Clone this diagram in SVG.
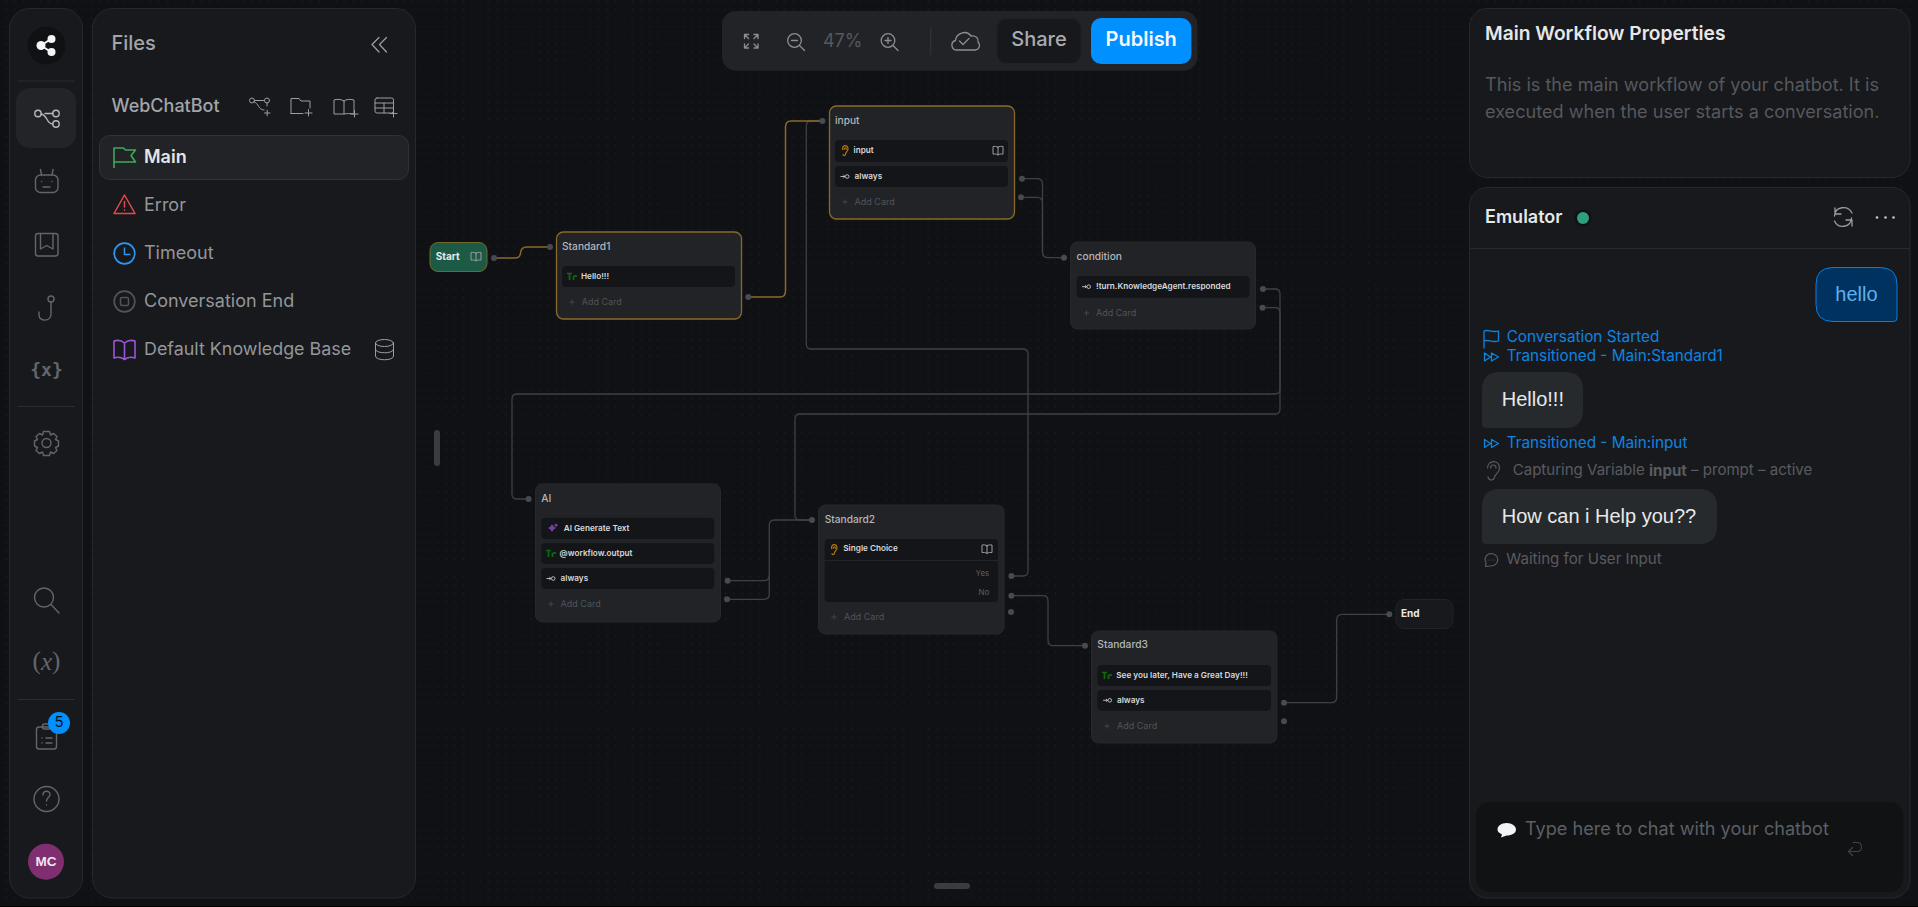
<svg xmlns="http://www.w3.org/2000/svg" width="1918" height="907" viewBox="0 0 1918 907">
<style>
text{font-family:Inter,"Noto Sans","Liberation Sans",sans-serif;dominant-baseline:central;transform:translateY(-.6px)}
#files text,#emulator text,#properties text,#rail text{transform:translateY(-1.2px)}
.panel{fill:#18191c;stroke:#26282b;stroke-width:1}
.node{fill:#212327;stroke:#26282b;stroke-width:1}
.sel{stroke:#8a6a28;stroke-width:1.3}
.card{fill:#141518}
.title{font-size:10.2px;font-weight:500;fill:#b4b6ba}
.ct{font-size:8.2px;font-weight:600;fill:#d8d9db}
.add{font-size:9px;fill:#505358}
.opt{font-size:8px;fill:#5c5f64}
.port{fill:#474a50}
.conn{fill:none;stroke:#3e4145;stroke-width:1.3}
.gold{fill:none;stroke:#8a6a28;stroke-width:1.5}
.ic{fill:none;stroke:#62666c;stroke-width:1.4;stroke-linecap:round;stroke-linejoin:round}
.ti{fill:none;stroke:#9a9da2;stroke-width:1;stroke-linecap:round;stroke-linejoin:round}
.ti2{fill:none;stroke:#8b8e93;stroke-width:1.3;stroke-linecap:round;stroke-linejoin:round}
.file{font-size:18px;fill:#93969b}
.blue{font-size:15.3px;fill:#0d84e0}
.grey{font-size:15.05px;fill:#585b61}
.bub{font-family:"Liberation Sans",Arial,sans-serif;font-size:20px;fill:#e8e9ea}
.bl{fill:none;stroke:#0d84e0;stroke-width:1.3;stroke-linejoin:round;stroke-linecap:round}
.gl{fill:none;stroke:#585b61;stroke-width:1.2;stroke-linejoin:round;stroke-linecap:round}
</style>
<defs>
<pattern id="dots" width="8.46" height="8.46" patternUnits="userSpaceOnUse" patternTransform="translate(2.27 -3.13)"><circle cx="4.23" cy="4.23" r="0.75" fill="#1d1f23"/></pattern>
<g id="book"><path class="ti" d="M0 -3.8V4.4M0 -3.2C-1.5 -4.4 -3.6 -4.2 -5 -4V3.6C-3.6 3.4 -1.5 3.3 0 4.4C1.5 3.3 3.6 3.4 5 3.6V-4C3.6 -4.2 1.5 -4.4 0 -3.2Z"/></g>
<g id="ear"><path fill="none" stroke="#b87409" stroke-width="1.2" stroke-linecap="round" d="M-2.5 -1C-2.5 -6 3 -6 3 -1.5C3 1 0.5 1.500 0.5 3.500C0.5 5.500 -2 5.500 -2 4M-0.8 -1C-0.8 -3.3 1.3 -3.3 1.3 -1.2"/></g>
<g id="arrow"><path fill="none" stroke="#c8c9cc" stroke-width="0.9" d="M-4.5 0H0M-1.6 -1.4L0 0L-1.6 1.4"/><circle cx="2.2" cy="0" r="1.8" fill="none" stroke="#c8c9cc" stroke-width="0.9"/></g>
<g id="tr"><path fill="none" stroke="#0f6a0f" stroke-width="1.7" d="M-5 -3H0M-2.5 -3V3.5M1.5 -0.5V3.5M1.5 0.5C2.5 -0.7 4 -0.7 5 -0.4"/></g>
<g id="plus"><path fill="none" stroke="#44474c" stroke-width="0.9" d="M-2.7 0H2.7M0 -2.7V2.7"/></g>
<g id="ffwd"><path class="bl" d="M-7 -4L-1 0L-7 4ZM0 -4L7 0L0 4Z"/></g>
</defs>
<rect width="1918" height="907" fill="#101114"/>
<rect width="1918" height="907" fill="url(#dots)"/>
<rect y="906" width="1918" height="1" fill="#000"/>

<g id="connectors">
<path class="conn" d="M1022 178.7H1037Q1042.5 178.7 1042.5 184V252Q1042.5 257.7 1048 257.7H1064"/>
<path class="conn" d="M1021 197.3H1037Q1042.5 197.3 1042.5 203V252"/>
<path class="conn" d="M1263 289H1275Q1280 289 1280 294V389Q1280 394 1275 394H517Q512 394 512 399V494Q512 499 517 499H528.6"/>
<path class="conn" d="M1262.5 307.7H1275Q1280 307.7 1280 313V409Q1280 414 1275 414H800Q795 414 795 419V515Q795 520 800 520H812"/>
<path class="conn" d="M727.6 580.7H764Q769.3 580.7 769.3 575V525Q769.3 520 775 520H812"/>
<path class="conn" d="M727 599.3H764Q769.3 599.3 769.3 594V575"/>
<path class="conn" d="M1011.4 576H1023Q1028 576 1028 571V354Q1028 349 1023 349H811Q806.3 349 806.3 344V126Q806.3 121 811 121H822"/>
<path class="conn" d="M1011.4 595.7H1043Q1048 595.7 1048 601V640Q1048 645.7 1053 645.7H1085"/>
<path class="conn" d="M1284 702.7H1331Q1336.7 702.7 1336.7 697V620Q1336.7 614.3 1342 614.3H1389.3"/>
<path class="gold" d="M494 258H515Q520 258 520.5 253Q521 247 527 247H550"/>
<path class="gold" d="M748 297H780Q785.5 297 785.5 291V127Q785.5 121 791 121H822"/>
</g>

<g id="node-start">
<rect x="430" y="242.5" width="57" height="29" rx="8" fill="#1d5a45" stroke="#6f6a2c" stroke-width="1"/>
<text x="435.7" y="256.5" font-size="10" font-weight="700" fill="#e8e9ea">Start</text>
<use href="#book" x="476" y="256.5"/>
<circle class="port" cx="494" cy="258" r="3"/>
</g>
<g id="node-standard1">
<rect class="node sel" x="556.5" y="232" width="185" height="87" rx="7"/>
<text class="title" x="562" y="246.5">Standard1</text>
<rect class="card" x="562" y="266" width="173" height="21" rx="4"/>
<use href="#tr" x="572" y="276.5"/>
<text class="ct" x="581" y="276.5">Hello!!!</text>
<use href="#plus" x="572" y="302"/>
<text class="add" x="581.7" y="302">Add Card</text>
<circle class="port" cx="550" cy="247" r="3"/>
<circle class="port" cx="748.3" cy="297" r="3"/>
</g>
<g id="node-input">
<rect class="node sel" x="829.5" y="106" width="185" height="113" rx="7"/>
<text class="title" x="835" y="121">input</text>
<rect class="card" x="835" y="140" width="173" height="22" rx="4"/>
<use href="#ear" x="845" y="150.500"/>
<text class="ct" x="853.5" y="150.500">input</text>
<use href="#book" x="998" y="150.500"/>
<rect class="card" x="835" y="166" width="173" height="21" rx="4"/>
<use href="#arrow" x="845" y="176.500"/>
<text class="ct" x="854.6" y="176.500">always</text>
<use href="#plus" x="845" y="202"/>
<text class="add" x="854.6" y="202">Add Card</text>
<circle class="port" cx="822.4" cy="121" r="3"/>
<circle class="port" cx="1022" cy="178.700" r="3"/>
<circle class="port" cx="1021" cy="197.300" r="3"/>
</g>
<g id="node-condition">
<rect class="node" x="1070.500" y="242" width="185" height="87" rx="7"/>
<text class="title" x="1076.600" y="256.700">condition</text>
<rect class="card" x="1076.600" y="276" width="173" height="21.700" rx="4"/>
<use href="#arrow" x="1086.500" y="286.700"/>
<text class="ct" x="1096" y="286.500">!turn.KnowledgeAgent.responded</text>
<use href="#plus" x="1086.500" y="313"/>
<text class="add" x="1096" y="313">Add Card</text>
<circle class="port" cx="1064" cy="257.700" r="3"/>
<circle class="port" cx="1263" cy="289" r="3"/>
<circle class="port" cx="1262.500" cy="307.700" r="3"/>
</g>
<g id="node-ai">
<rect class="node" x="535.500" y="484" width="185" height="138" rx="7"/>
<text class="title" x="541.300" y="498.700">AI</text>
<rect class="card" x="541.300" y="517.700" width="173" height="21.300" rx="4"/>
<path fill="#7a3fa8" d="M552 524l1.500 2.500 2.500 1.500-2.500 1.500-1.500 2.500-1.500-2.500-2.500-1.500 2.500-1.500zM556 523l.8 1.500 1.500.8-1.500.8-.8 1.500-.8-1.500-1.500-.8 1.500-.8z"/>
<text class="ct" x="563.700" y="528.300">AI Generate Text</text>
<rect class="card" x="541.300" y="543" width="173" height="21" rx="4"/>
<use href="#tr" x="551" y="553.500"/>
<text class="ct" x="559.600" y="553.300">@workflow.output</text>
<rect class="card" x="541.300" y="568" width="173" height="21" rx="4"/>
<use href="#arrow" x="551" y="578.500"/>
<text class="ct" x="560.600" y="578.300">always</text>
<use href="#plus" x="551" y="604"/>
<text class="add" x="560.600" y="604">Add Card</text>
<circle class="port" cx="528.600" cy="499" r="3"/>
<circle class="port" cx="727.600" cy="580.700" r="3"/>
<circle class="port" cx="727" cy="599.300" r="3"/>
</g>
<g id="node-standard2">
<rect class="node" x="818.500" y="505" width="185.500" height="129" rx="7"/>
<text class="title" x="824.700" y="520">Standard2</text>
<rect class="card" x="824.700" y="539" width="173.300" height="63" rx="4"/>
<rect x="824.700" y="560" width="173.300" height="1" fill="#222428"/>
<use href="#ear" x="834" y="549.500"/>
<text class="ct" x="843.300" y="549">Single Choice</text>
<use href="#book" x="987" y="549"/>
<text class="opt" x="989.300" y="573.500" text-anchor="end">Yes</text>
<text class="opt" x="989.300" y="592.700" text-anchor="end">No</text>
<use href="#plus" x="834" y="617"/>
<text class="add" x="844" y="617">Add Card</text>
<circle class="port" cx="812" cy="520" r="3"/>
<circle class="port" cx="1011.400" cy="576" r="3"/>
<circle class="port" cx="1011.400" cy="595.700" r="3"/>
<circle class="port" cx="1011" cy="612" r="3"/>
</g>
<g id="node-standard3">
<rect class="node" x="1091.500" y="631" width="185.500" height="112" rx="7"/>
<text class="title" x="1097.300" y="644.500">Standard3</text>
<rect class="card" x="1097.300" y="665" width="173.700" height="21" rx="4"/>
<use href="#tr" x="1107" y="675.500"/>
<text class="ct" x="1116.300" y="675.300">See you later, Have a Great Day!!!</text>
<rect class="card" x="1097.300" y="690" width="173.700" height="20.700" rx="4"/>
<use href="#arrow" x="1107.600" y="700.300"/>
<text class="ct" x="1117" y="700.300">always</text>
<use href="#plus" x="1107" y="726"/>
<text class="add" x="1117" y="726">Add Card</text>
<circle class="port" cx="1085" cy="645.700" r="3"/>
<circle class="port" cx="1284" cy="702.700" r="3"/>
<circle class="port" cx="1284" cy="721.300" r="3"/>
</g>
<g id="node-end">
<rect x="1396" y="599.500" width="57" height="29" rx="8" fill="#18191c" stroke="#212327"/>
<text x="1401" y="613.500" font-size="10" font-weight="700" fill="#e8e9ea">End</text>
<circle class="port" cx="1389.300" cy="614.300" r="3"/>
</g>

<rect id="handle-left" x="434" y="430" width="6" height="36" rx="3" fill="#3a3c40"/>
<rect id="handle-bottom" x="934" y="883" width="36" height="6" rx="3" fill="#3a3c40"/>

<g id="toolbar">
<rect x="722" y="11" width="475.500" height="59.700" rx="14" fill="#212327"/>
<path class="ti2" d="M744.500 34.500l4 4M744.500 34.500v4M744.500 34.500h4M758 34.500l-4 4M758 34.500v4M758 34.500h-4M744.500 48l4-4M744.500 48v-4M744.500 48h4M758 48l-4-4M758 48v-4M758 48h-4"/>
<circle class="ti2" cx="794.500" cy="40.500" r="6.800" stroke-width="1.600"/><path class="ti2" d="M791.500 40.500h6M799.500 45.500l5 5" stroke-width="1.600"/>
<text x="842.700" y="41" text-anchor="middle" font-size="18" fill="#55585d">47%</text>
<circle class="ti2" cx="888" cy="40.500" r="6.800" stroke-width="1.600"/><path class="ti2" d="M885 40.500h6M888 37.500v6M893 45.500l5 5" stroke-width="1.600"/>
<rect x="930.300" y="27" width="1" height="28" fill="#34373b"/>
<path class="ti2" d="M957 50c-6 0-7-8-1.500-9.500C956 34 966 29 971 36c5-1 8 3 7 6 3 3 1 8-3 8Z" stroke-width="1.500"/><path class="ti2" d="M959.500 41l3.500 3.500 6-6"/>
<rect x="997" y="18.500" width="84" height="45" rx="10" fill="#17181b" stroke="#1f2124"/>
<text x="1039" y="40" text-anchor="middle" font-size="20" font-weight="500" fill="#a9abb0">Share</text>
<rect x="1091" y="18" width="100.400" height="46" rx="10" fill="#0090ff"/>
<text x="1141.200" y="40" text-anchor="middle" font-size="20" font-weight="600" fill="#f4f8fc">Publish</text>
</g>

<g id="rail">
<rect class="panel" x="9.500" y="8.500" width="73" height="889.500" rx="20"/>
<circle cx="46.500" cy="45.500" r="19" fill="#101114"/>
<path d="M41 45.500L51 39M41 45.500L51 52" stroke="#f4f4f4" stroke-width="2"/><circle cx="41" cy="45.500" r="4.500" fill="#f4f4f4"/><circle cx="51.500" cy="39" r="4" fill="#f4f4f4"/><circle cx="51.500" cy="52" r="4" fill="#f4f4f4"/>
<rect x="18" y="80.500" width="57" height="1" fill="#2a2c30"/>
<rect x="16" y="88" width="60" height="60" rx="14" fill="#222428"/>
<g class="ic" style="stroke:#b6b8bc"><circle cx="38" cy="113.500" r="3.200"/><circle cx="56" cy="113.500" r="3.200"/><circle cx="56" cy="124" r="3.200"/><path d="M41 114C48 115 46 124 52.800 124M45 113.500H52.800"/></g>
<g class="ic"><rect x="35.500" y="175" width="22.500" height="17.500" rx="5"/><path d="M41.500 175L40.500 169.500M52 175L53 169.500M43 187H50M41.500 181.500h.1M52 181.500h.1"/></g>
<g class="ic"><rect x="35.500" y="233.500" width="22.500" height="22.500" rx="2.500"/><path d="M40.500 233.500V249L46.700 245.500L53 249V233.500"/></g>
<g class="ic"><circle cx="51" cy="299" r="3"/><path d="M51 302V314C51 322 39 322 39 315V312"/></g>
<text x="46.500" y="371" text-anchor="middle" style="font-family:'DejaVu Sans Mono',monospace" font-size="18" font-weight="700" fill="#62666c">{x}</text>
<rect x="18" y="406" width="57" height="1" fill="#2a2c30"/>
<g class="ic"><circle cx="46.500" cy="443" r="4.500"/><path d="M43.500 431.500h6l1 3.500 3-1.500 3.500 3-1.500 3 3 1.500v5l-3 1.500 1.500 3-3.500 3-3-1.500-1 3.500h-6l-1-3.500-3 1.500-3.500-3 1.500-3-3-1.500v-5l3-1.500-1.500-3 3.500-3 3 1.500z"/></g>
<g class="ic"><circle cx="44" cy="597.500" r="9.500"/><path d="M51 604.500L59 613"/></g>
<text x="46.500" y="662" text-anchor="middle" font-size="25" style="font-family:'Liberation Serif',serif" fill="#62666c">(<tspan font-style="italic">x</tspan>)</text>
<rect x="18" y="699" width="57" height="1" fill="#2a2c30"/>
<g class="ic"><rect x="36.500" y="727" width="20" height="22" rx="2.500"/><rect x="42.500" y="724" width="8" height="5" rx="2"/><path d="M42 738h.1M46 738h6M42 743h.1M46 743h6"/></g>
<circle cx="59" cy="723" r="11" fill="#0090ff"/>
<text x="59" y="723" text-anchor="middle" font-size="15" fill="#06121c">5</text>
<g class="ic"><circle cx="46.500" cy="799" r="12.500"/><path d="M43 795c0-5 7-5 7 -.5 0 3-3.500 3-3.500 6.500M46.500 805h.1"/></g>
<circle cx="46" cy="861.700" r="18" fill="#7f2f6f"/>
<text x="46" y="863" text-anchor="middle" font-size="13.500" font-weight="700" fill="#f1e6ee" style="font-family:'Liberation Sans',sans-serif">MC</text>
</g>

<g id="files">
<rect class="panel" x="92.500" y="8.500" width="323" height="889.500" rx="20"/>
<text x="111.500" y="44.500" font-size="20" font-weight="500" fill="#a2a5aa">Files</text>
<path class="ti" style="stroke-width:1.300" d="M379 37.500L372 44.500L379 52M386.500 37.500L379.500 44.500L386.500 52"/>
<text x="111.500" y="106.500" font-size="18" font-weight="500" fill="#a2a5aa">WebChatBot</text>
<g class="ti"><circle cx="252" cy="100.500" r="2.500"/><circle cx="267" cy="100.500" r="2.500"/><path d="M254.500 100.500H264.500M254 102C259 103 258 110 264 110M264.500 113H270M267.200 110.200V115.800M267 103V106"/></g>
<g class="ti"><path d="M291 113.500V98.500H299L301 101H310V108M291 113.500H303M305 113H312M308.500 109.500V116"/></g>
<g class="ti"><path d="M344 101V114M344 101C342 99 336 99 334 100V114H344C346 113.500 350 113.500 354 114V100C350 99 346 99 344 101ZM351 114H358M354.500 110.500V117"/></g>
<g class="ti"><rect x="375" y="98" width="18.500" height="15" rx="2"/><path d="M375 103H393.500M375 108H393.500M384 103V113M390 113.500H397M393.500 110V117"/></g>
<rect x="99.500" y="135.500" width="309" height="44" rx="10" fill="#212327" stroke="#2f3236"/>
<path fill="none" stroke="#3fa95c" stroke-width="1.600" stroke-linejoin="round" d="M114 168V148H123.500L125.500 150H135.500L131 155.500L135.500 162H114"/>
<text x="144" y="158" font-size="18" font-weight="600" fill="#e4e5e7">Main</text>
<path fill="none" stroke="#e5484d" stroke-width="1.500" stroke-linejoin="round" d="M124.500 195L135 213.500H114Z"/><path stroke="#e5484d" stroke-width="1.500" stroke-linecap="round" d="M124.500 201.500V207M124.500 210V210.200"/>
<text class="file" x="144" y="206">Error</text>
<circle cx="124.500" cy="253.500" r="10.300" fill="none" stroke="#2f95f0" stroke-width="1.700"/><path fill="none" stroke="#2f95f0" stroke-width="1.500" d="M124.500 247.500V254.500H130.500"/>
<text class="file" x="144" y="254">Timeout</text>
<circle cx="124.500" cy="301.500" r="10.300" fill="none" stroke="#50545a" stroke-width="1.700"/><rect x="120.500" y="297.500" width="8" height="8" rx="1.500" fill="none" stroke="#50545a" stroke-width="1.500"/>
<text class="file" x="144" y="302">Conversation End</text>
<path fill="none" stroke="#9a55d8" stroke-width="1.600" stroke-linejoin="round" d="M124.500 343V359M124.500 343C121 340 117 340 114 341V358C117 357 121 357 124.500 359.500C128 357 132 357 135 358V341C132 340 128 340 124.500 343Z"/>
<text class="file" x="144" y="350" style="font-size:17.9px">Default Knowledge Base</text>
<g class="ti"><ellipse cx="384.500" cy="343" rx="9" ry="3.500"/><path d="M375.500 343V356C375.500 361 393.500 361 393.500 356V343M375.500 349.500C375.500 354 393.500 354 393.500 349.500"/></g>
</g>

<g id="properties">
<rect class="panel" x="1469.500" y="8.500" width="440.500" height="169" rx="18"/>
<text x="1485" y="34.500" font-size="19.200" font-weight="600" fill="#e6e7e9">Main Workflow Properties</text>
<text x="1485" y="85.500" font-size="18.100" fill="#55585e">This is the main workflow of your chatbot. It is</text>
<text x="1485" y="112" font-size="18.100" fill="#55585e">executed when the user starts a conversation.</text>
</g>

<g id="emulator">
<rect class="panel" x="1469.500" y="187.500" width="440.500" height="710.500" rx="18"/>
<text x="1485" y="218" font-size="18" font-weight="600" fill="#e6e7e9">Emulator</text>
<circle cx="1583" cy="218" r="8.500" fill="#101114"/><circle cx="1583" cy="218" r="6" fill="#2f9e7f"/>
<g class="ti" style="stroke-width:1.300"><path d="M1834.500 216C1835 206 1848 205 1852 213M1851.500 218C1851 228 1838 229 1834.500 221M1835 208V214H1841M1852 226V220H1846"/></g>
<circle cx="1877" cy="217.500" r="1.300" fill="#c8c9cc"/><circle cx="1885.500" cy="217.500" r="1.300" fill="#c8c9cc"/><circle cx="1893.500" cy="217.500" r="1.300" fill="#c8c9cc"/>
<rect x="1470" y="248" width="440" height="1" fill="#282a2e"/>
<path d="M1833 267.500H1880Q1897 267.500 1897 284.500V318Q1897 321.500 1893.500 321.500H1833Q1816 321.500 1816 304.500V284.500Q1816 267.500 1833 267.500Z" fill="#00325f" stroke="#0a7ee0" stroke-width="1"/>
<text class="bub" x="1856.500" y="295" text-anchor="middle" style="fill:#5eb0ef">hello</text>
<path class="bl" d="M1484 348V331C1488 329 1492 333 1498.500 331V341C1492 343 1488 339 1484 341"/>
<text class="blue" x="1506.700" y="337.500">Conversation Started</text>
<use href="#ffwd" x="1491.500" y="357"/>
<text class="blue" x="1506.700" y="357">Transitioned - Main:Standard1</text>
<path d="M1500 372H1565Q1583 372 1583 390V410Q1583 428 1565 428H1486Q1482 428 1482 424V390Q1482 372 1500 372Z" fill="#272a2d"/>
<text class="bub" x="1501.700" y="400.500">Hello!!!</text>
<use href="#ffwd" x="1491.500" y="443.500"/>
<text class="blue" x="1506.700" y="444">Transitioned - Main:input</text>
<path class="gl" d="M1487.500 468C1487.500 460 1499.500 459 1499.500 468C1499.500 473 1495 474 1494.500 477C1494 481 1489 481 1488 477M1490.500 468C1490.500 464 1496 464 1496 468"/>
<text class="grey" x="1512.700" y="471">Capturing Variable <tspan font-weight="700">input</tspan> – prompt – active</text>
<path d="M1500 489H1699Q1717 489 1717 507V526Q1717 544 1699 544H1486Q1482 544 1482 540V507Q1482 489 1500 489Z" fill="#272a2d"/>
<text class="bub" x="1501.700" y="517">How can i Help you??</text>
<path class="gl" d="M1491 553.500A6.500 6 0 1 1 1491 566L1485.500 566.500L1486 562.500A6.500 6 0 0 1 1491 553.500Z"/><path class="gl" d="M1488 560h.1M1491 560h.1M1494 560h.1"/>
<text class="grey" x="1506.300" y="560" style="font-size:15.1px">Waiting for User Input</text>
<rect x="1476" y="802" width="427.300" height="90" rx="14" fill="#111214"/>
<path fill="#f4f4f4" d="M1506.700 823C1512 823 1516 826 1516 829.500C1516 833 1512 835.500 1506.700 835.500L1501 837.500L1502 834.500C1499 833 1497.500 831.500 1497.500 829.500C1497.500 826 1501 823 1506.700 823Z"/>
<text x="1525" y="829.500" font-size="18.100" fill="#5c5f64">Type here to chat with your chatbot</text>
<path fill="none" stroke="#3f4247" stroke-width="1.100" stroke-linecap="round" stroke-linejoin="round" d="M1853 842.500H1857C1863 842.500 1863 851.500 1857 851.500H1849M1852.500 847.500L1848.500 851.500L1852.500 855.500"/>
</g>
</svg>
